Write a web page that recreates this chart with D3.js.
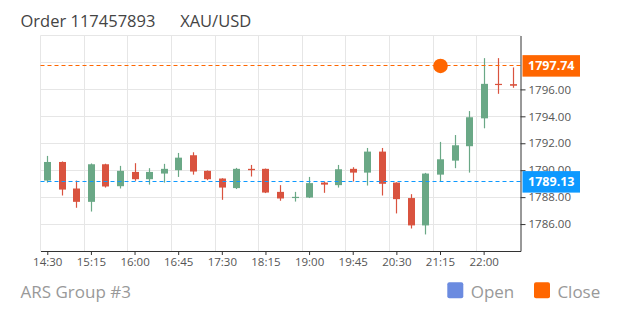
<!DOCTYPE html>
<meta charset="utf-8">
<style>
body { margin: 0; background: #fff; }
svg { font-family: "Open Sans", sans-serif; }
.grid line { stroke: #e6e6e6; stroke-width: 1; }
.axis path, .axis line { stroke: #333; }
.axis text { fill: #555; font-size: 11.5px; font-family: "Open Sans", sans-serif; }
</style>
<svg width="620" height="310"></svg>
<script src="https://cdn.jsdelivr.net/npm/d3@7"></script>
<script>

// 15 minute candles, 14:30 .. 22:30
var times = ["14:30","14:45","15:00","15:15","15:30","15:45","16:00","16:15","16:30","16:45","17:00",
  "17:15","17:30","17:45","18:00","18:15","18:30","18:45","19:00","19:15","19:30","19:45",
  "20:00","20:15","20:30","20:45","21:00","21:15","21:30","21:45","22:00","22:15","22:30"];

var open = [1789.23,1790.61,1788.64,1787.65,1790.44,1788.81,1789.87,1789.33,1789.75,1790.00,1791.11,
  1789.95,1789.38,1788.67,1790.10,1790.10,1788.39,1787.93,1787.97,1789.08,1788.89,1790.10,
  1789.82,1791.38,1789.08,1787.93,1785.90,1789.67,1790.71,1791.78,1793.85,1796.41,1796.39];
var high = [1791.06,1790.65,1789.23,1790.50,1790.48,1790.32,1790.52,1790.15,1790.47,1791.28,1791.33,
  1789.98,1789.40,1790.17,1790.39,1790.12,1788.89,1788.39,1789.50,1789.16,1790.39,1790.22,
  1791.65,1791.65,1789.10,1788.22,1789.80,1792.10,1792.61,1794.39,1798.32,1798.32,1797.63];
var low = [1789.08,1788.12,1787.21,1786.93,1788.71,1788.64,1789.21,1788.93,1789.08,1789.50,1789.67,
  1789.26,1787.80,1788.60,1789.53,1788.30,1787.73,1787.67,1787.93,1788.32,1788.71,1789.16,
  1788.86,1788.12,1786.79,1785.67,1785.23,1789.19,1790.15,1789.82,1793.11,1795.67,1796.12];
var close = [1790.61,1788.56,1787.65,1790.44,1788.79,1789.95,1789.33,1789.87,1790.10,1790.93,1789.90,
  1789.33,1788.71,1790.10,1790.00,1788.34,1787.90,1788.02,1789.04,1788.93,1790.07,1789.82,
  1791.38,1788.99,1787.85,1785.90,1789.75,1790.81,1791.85,1793.93,1796.41,1796.34,1796.27];

var yTicks = [1786, 1788, 1790, 1792, 1794, 1796];
var yGrid = [1784, 1786, 1788, 1790, 1792, 1794, 1796, 1798, 1800];

var orderId = "117457893", symbol = "XAU/USD", group = "ARS Group #3";
var openPrice = 1789.13;
var closePrice = 1797.74, closeTime = "21:15";

var svg = d3.select("svg");

var x = d3.scaleBand().domain(times).range([40.5, 520.5]).padding(0);
var y = d3.scaleLinear().domain([1784, 1800]).range([251, 35.5]);
var step = x.step(), bodyW = 7;

var green = "#6aa886", red = "#d9533f";
var orange = "#ff6600", blue = "#0d99ff";

function crisp(v) { return Math.round(v - 0.5) + 0.5; }

// grid
var grid = svg.append("g").attr("class", "grid");
grid.selectAll(".h").data(yGrid).enter().append("line")
  .attr("x1", 40.5).attr("x2", 520.5)
  .attr("y1", function(d) { return crisp(y(d)); })
  .attr("y2", function(d) { return crisp(y(d)); });
grid.selectAll(".v").data(times.filter(function(d, i) { return i % 3 == 0; })).enter().append("line")
  .attr("x1", function(d) { return crisp(x(d)); })
  .attr("x2", function(d) { return crisp(x(d)); })
  .attr("y1", 35.5).attr("y2", 251);

// candles
var candles = svg.append("g").selectAll("g").data(times).enter().append("g");
candles.append("line")
  .attr("x1", function(d) { return crisp(x(d) + step / 2); })
  .attr("x2", function(d) { return crisp(x(d) + step / 2); })
  .attr("y1", function(d, i) { return y(high[i]); })
  .attr("y2", function(d, i) { return y(low[i]); })
  .attr("stroke", function(d, i) { return close[i] >= open[i] ? green : red; })
  .attr("stroke-width", 1.2);
candles.append("rect")
  .attr("x", function(d) { return Math.round(x(d) + step / 2 - bodyW / 2); })
  .attr("width", bodyW)
  .attr("y", function(d, i) { return y(Math.max(open[i], close[i])); })
  .attr("height", function(d, i) { return Math.max(1.2, Math.abs(y(open[i]) - y(close[i]))); })
  .attr("fill", function(d, i) { return close[i] >= open[i] ? green : red; });

// open / close lines
svg.append("line").attr("x1", 40.5).attr("x2", 520.5)
  .attr("y1", crisp(y(openPrice))).attr("y2", crisp(y(openPrice)))
  .attr("stroke", blue).attr("stroke-dasharray", "4,3");
svg.append("line").attr("x1", 40.5).attr("x2", 520.5)
  .attr("y1", crisp(y(closePrice))).attr("y2", crisp(y(closePrice)))
  .attr("stroke", orange).attr("stroke-dasharray", "4,3");
svg.append("circle")
  .attr("cx", x(closeTime) + step / 2).attr("cy", y(closePrice))
  .attr("r", 7.3).attr("fill", orange);

// axes
svg.append("g").attr("class", "axis")
  .attr("transform", "translate(0,251)")
  .call(d3.axisBottom(x)
    .tickValues(times.filter(function(d, i) { return i % 3 == 0 && i < 33; }))
    .tickSize(4).tickSizeOuter(0).tickPadding(3));

svg.append("g").attr("class", "axis")
  .attr("transform", "translate(520.5,0)")
  .call(d3.axisRight(y).tickValues(yTicks).tickFormat(d3.format(".2f"))
    .tickSize(5).tickSizeOuter(0).tickPadding(3));

// price labels
[[openPrice, blue], [closePrice, orange]].forEach(function(p) {
  svg.append("rect").attr("x", 522.5).attr("y", y(p[0]) - 10.8)
    .attr("width", 57.5).attr("height", 21.5).attr("fill", p[1]);
  svg.append("text").attr("x", 551.3).attr("y", y(p[0]))
    .attr("dy", "0.35em").attr("text-anchor", "middle")
    .attr("fill", "#fff").attr("font-size", "12.5px").attr("font-weight", "bold")
    .text(d3.format(".2f")(p[0]));
});

// title and footer
svg.append("text").attr("x", 20.5).attr("y", 26.7)
  .attr("fill", "#444").attr("font-size", "16.5px")
  .text("Order " + orderId + "\u2003\u2002" + symbol).attr("xml:space", "preserve");
svg.append("text").attr("x", 20.5).attr("y", 297.7)
  .attr("fill", "#999").attr("font-size", "17px").text(group);

var legend = [["Open", "#6b8be0", 447.3], ["Close", orange, 534]];
legend.forEach(function(l) {
  svg.append("rect").attr("x", l[2]).attr("y", 282.3).attr("width", 16).attr("height", 16)
    .attr("rx", 2).attr("fill", l[1]);
  svg.append("text").attr("x", l[2] + 23.4).attr("y", 297.7)
    .attr("fill", "#999").attr("font-size", "17px").text(l[0]);
});

</script>
